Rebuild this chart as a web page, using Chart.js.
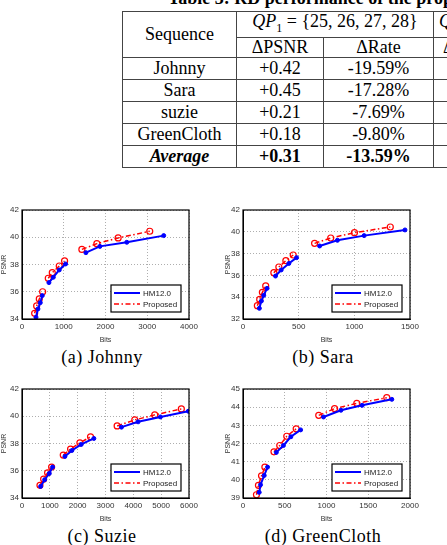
<!DOCTYPE html>
<html>
<head>
<meta charset="utf-8">
<script src="https://cdn.jsdelivr.net/npm/chart.js@4"></script>
<style>
  html, body { margin: 0; padding: 0; background: #fff; overflow: hidden; }
  body { width: 447px; height: 545px; position: relative; font-family: "Liberation Serif", serif; }
  .title { position: absolute; left: 168px; top: -11px; font-size: 18px; line-height: 18px; font-weight: bold; white-space: nowrap; }
  table.rd { position: absolute; left: 122px; top: 11px; width: 508px; border-collapse: collapse; font-size: 18px; table-layout: fixed; }
  table.rd td { border: 1.3px solid #444; padding: 0; text-align: center; vertical-align: middle; white-space: nowrap; overflow: hidden; line-height: 18px; }
  canvas { position: absolute; }
  .cap { position: absolute; font-size: 18px; line-height: 20px; text-align: center; letter-spacing: 0.5px; }
</style>
</head>
<body>
<div class="title">Table 3: RD performance of the proposed scheme</div>
<table class="rd">
  <colgroup><col style="width:114px"><col style="width:87px"><col style="width:110px"><col style="width:87px"><col style="width:110px"></colgroup>
  <tr style="height:22px"><td rowspan="2">Sequence</td><td colspan="2"><i>QP</i><sub style="font-size:12px">1</sub> = {25, 26, 27, 28}</td><td colspan="2" style="text-align:left;padding-left:5px"><i>QP</i><sub style="font-size:12px">2</sub> = {29, 30, 31, 32}</td></tr>
  <tr style="height:20px"><td>ΔPSNR</td><td>ΔRate</td><td style="text-align:left;padding-left:9px">ΔPSNR</td><td>ΔRate</td></tr>
  <tr style="height:22px"><td>Johnny</td><td>+0.42</td><td>-19.59%</td><td></td><td></td></tr>
  <tr style="height:22px"><td>Sara</td><td>+0.45</td><td>-17.28%</td><td></td><td></td></tr>
  <tr style="height:22px"><td>suzie</td><td>+0.21</td><td>-7.69%</td><td></td><td></td></tr>
  <tr style="height:22px"><td>GreenCloth</td><td>+0.18</td><td>-9.80%</td><td></td><td></td></tr>
  <tr style="height:22px"><td><b><i>Average</i></b></td><td><b>+0.31</b></td><td><b>-13.59%</b></td><td></td><td></td></tr>
</table>

<canvas id="johnny" width="224" height="145" style="left:0;top:200px"></canvas>
<canvas id="sara" width="223" height="145" style="left:224px;top:200px"></canvas>
<canvas id="suzie" width="224" height="145" style="left:0;top:379px"></canvas>
<canvas id="green" width="223" height="145" style="left:224px;top:379px"></canvas>

<div class="cap" style="left:0;width:204px;top:347px">(a) Johnny</div>
<div class="cap" style="left:223px;width:200px;top:347px">(b) Sara</div>
<div class="cap" style="left:0;width:204px;top:526px">(c) Suzie</div>
<div class="cap" style="left:223px;width:200px;top:526px">(d) GreenCloth</div>

<script>
const perGroup = 4;

const johnnyHmBits = [335, 382, 438, 486, 645, 749, 892, 1044, 1530, 1865, 2510, 3394];
const johnnyHmPsnr = [34.13, 34.74, 35.20, 35.72, 36.67, 37.06, 37.60, 38.04, 38.87, 39.33, 39.63, 40.12];
const johnnyPropBits = [303, 351, 414, 494, 629, 725, 892, 1020, 1434, 1793, 2303, 3060];
const johnnyPropPsnr = [34.42, 34.96, 35.47, 36.00, 36.99, 37.40, 37.89, 38.26, 39.11, 39.53, 39.95, 40.44];

const saraHmBits = [147, 165, 186, 216, 292, 343, 412, 481, 688, 848, 1088, 1455];
const saraHmPsnr = [32.98, 33.65, 34.17, 34.81, 35.94, 36.50, 37.10, 37.63, 38.70, 39.22, 39.65, 40.17];
const saraPropBits = [129, 150, 174, 204, 277, 322, 385, 451, 643, 788, 1001, 1323];
const saraPropPsnr = [33.22, 33.80, 34.45, 35.03, 36.25, 36.77, 37.35, 37.87, 38.94, 39.43, 39.92, 40.44];

const suzieHmBits = [669, 813, 980, 1100, 1542, 1793, 2127, 2582, 3574, 4171, 4972, 5976];
const suzieHmPsnr = [34.85, 35.34, 35.80, 36.27, 37.05, 37.49, 37.93, 38.37, 39.20, 39.59, 39.95, 40.37];
const suziePropBits = [645, 777, 920, 1064, 1482, 1745, 2080, 2462, 3418, 4052, 4769, 5725];
const suziePropPsnr = [34.93, 35.39, 35.85, 36.27, 37.15, 37.59, 38.05, 38.49, 39.29, 39.73, 40.10, 40.54];

const greenHmBits = [194, 210, 254, 294, 399, 484, 573, 690, 964, 1173, 1427, 1782];
const greenHmPsnr = [39.31, 39.73, 40.24, 40.70, 41.51, 41.89, 42.37, 42.75, 43.46, 43.83, 44.10, 44.43];
const greenPropBits = [161, 185, 222, 262, 371, 440, 524, 637, 907, 1097, 1363, 1722];
const greenPropPsnr = [39.18, 39.70, 40.22, 40.70, 41.54, 41.89, 42.40, 42.81, 43.55, 43.92, 44.21, 44.52];

const seriesNames = ['HM12.0', 'Proposed'];

const sans = 'Liberation Sans, Arial, sans-serif';

// Luecke nach jeder Gruppe, damit die Linie nicht durchgeht
function toPoints(bits, psnr) {
  const pts = [];
  bits.forEach((b, i) => {
    pts.push({ x: b, y: psnr[i] });
    if ((i + 1) % perGroup === 0 && i < bits.length - 1) pts.push({ x: b, y: null });
  });
  return pts;
}

const frame = {
  id: 'frame',
  afterDatasetsDraw(chart) {
    const a = chart.chartArea, ctx = chart.ctx;
    ctx.save();
    ctx.strokeStyle = '#000';
    ctx.lineWidth = 1.2;
    ctx.setLineDash([]);
    ctx.strokeRect(a.left, a.top, a.right - a.left, a.bottom - a.top);

    // legende unten rechts im Plot
    const w = 70, h = 27;
    const x = a.right - 8 - w, y = a.bottom - 7 - h;
    ctx.fillStyle = '#fff';
    ctx.fillRect(x, y, w, h);
    ctx.strokeRect(x, y, w, h);
    chart.data.datasets.forEach((ds, i) => {
      const ly = y + 8 + i * 11;
      ctx.strokeStyle = ds.borderColor;
      ctx.lineWidth = ds.borderWidth;
      ctx.setLineDash(ds.borderDash || []);
      ctx.beginPath();
      ctx.moveTo(x + 3, ly);
      ctx.lineTo(x + 29, ly);
      ctx.stroke();
      ctx.setLineDash([]);
      ctx.fillStyle = '#222';
      ctx.font = '8px ' + sans;
      ctx.textBaseline = 'middle';
      ctx.fillText(ds.label, x + 32, ly + 0.5);
    });
    ctx.restore();
  }
};

function makeChart(id, hmBits, hmPsnr, propBits, propPsnr, xMax, xStep, yMin, yMax, yStep, axisW, padRight) {
  new Chart(document.getElementById(id), {
    type: 'line',
    data: {
      datasets: [{
        label: seriesNames[0],
        data: toPoints(hmBits, hmPsnr),
        borderColor: '#0000ff',
        backgroundColor: '#0000ff',
        borderWidth: 2,
        pointRadius: 2,
        pointBorderWidth: 1,
        spanGaps: false
      }, {
        label: seriesNames[1],
        data: toPoints(propBits, propPsnr),
        borderColor: '#ff0000',
        backgroundColor: 'rgba(0,0,0,0)',
        borderWidth: 1.5,
        borderDash: [5, 2.5, 1.5, 2.5],
        pointRadius: 3,
        pointBorderWidth: 1.2,
        spanGaps: false
      }]
    },
    options: {
      responsive: false,
      animation: false,
      devicePixelRatio: 1,
      layout: { padding: { top: 10, right: padRight, bottom: 0, left: 0 } },
      plugins: { legend: { display: false }, tooltip: { enabled: false } },
      scales: {
        x: {
          type: 'linear',
          min: 0, max: xMax,
          ticks: { stepSize: xStep, font: { size: 8, family: sans }, color: '#333', padding: 3, maxRotation: 0,
                   callback: v => String(v) },
          grid: { color: '#999', lineWidth: 0.8, drawTicks: false },
          border: { dash: [1, 2], color: '#000' },
          title: { display: true, text: 'Bits', font: { size: 7, family: sans }, color: '#333', padding: 1 },
          afterFit(s) { s.height = 26; }
        },
        y: {
          min: yMin, max: yMax,
          ticks: { stepSize: yStep, font: { size: 8, family: sans }, color: '#333', padding: 3 },
          grid: { color: '#999', lineWidth: 0.8, drawTicks: false },
          border: { dash: [1, 2], color: '#000' },
          title: { display: true, text: 'PSNR', font: { size: 7, family: sans }, color: '#333', padding: 0 },
          afterFit(s) { s.width = axisW; }
        }
      }
    },
    plugins: [frame]
  });
}

makeChart('johnny', johnnyHmBits, johnnyHmPsnr, johnnyPropBits, johnnyPropPsnr, 4000, 1000, 34, 42, 2, 22, 35);
makeChart('sara', saraHmBits, saraHmPsnr, saraPropBits, saraPropPsnr, 1500, 500, 32, 42, 2, 19, 37);
makeChart('suzie', suzieHmBits, suzieHmPsnr, suziePropBits, suziePropPsnr, 6000, 1000, 34, 42, 2, 22, 35);
makeChart('green', greenHmBits, greenHmPsnr, greenPropBits, greenPropPsnr, 2000, 500, 39, 45, 1, 19, 37);
</script>
</body>
</html>
